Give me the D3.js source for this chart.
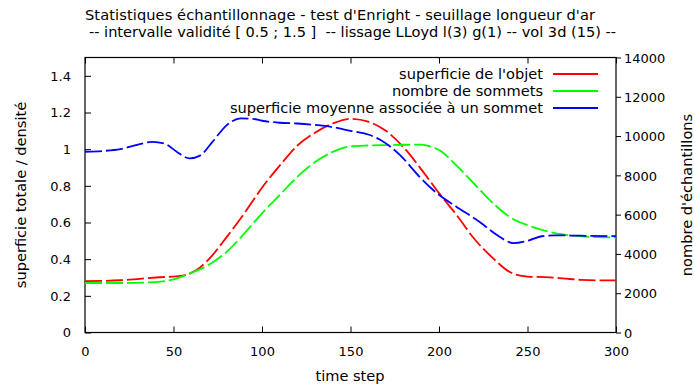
<!DOCTYPE html>
<html><head><meta charset="utf-8">
<script src="https://cdnjs.cloudflare.com/ajax/libs/d3/7.8.5/d3.min.js"></script>
<style>body{margin:0;background:#fff}svg{display:block}text{font-family:"DejaVu Sans",sans-serif;fill:#000}</style>
</head><body><svg id="c" width="694" height="384"></svg>
<script>
const titleLines = ["Statistiques échantillonnage - test d'Enright - seuillage longueur d'ar",
  "-- intervalle validité [ 0.5 ; 1.5 ]  -- lissage LLoyd l(3) g(1) -- vol 3d (15) --"];
const xTicks = [0,50,100,150,200,250,300];
const yTicks = [0,0.2,0.4,0.6,0.8,1,1.2,1.4];
const y2Ticks = [0,2000,4000,6000,8000,10000,12000,14000];
const seriesNames = ["superficie de l'objet","nombre de sommets","superficie moyenne associée à un sommet"];
const seriesColors = ["#ff0000","#00ff00","#0000ff"];
// superficie de l'objet (left axis)
const redT = [0,20,40,55,60,65,70,80,90,100,110,120,130,140,150,160,170,180,190,200,210,220,230,240,250,260,270,280,290,300];
const redV = [0.28,0.285,0.30,0.31,0.325,0.355,0.40,0.52,0.65,0.79,0.91,1.02,1.09,1.14,1.166,1.15,1.10,1.01,0.89,0.76,0.64,0.51,0.41,0.33,0.305,0.302,0.295,0.287,0.284,0.284];
// nombre de sommets (right axis)
const greenT = [0,20,40,50,60,70,80,90,100,110,120,130,140,150,160,170,180,190,195,200,210,220,230,240,250,260,270,280,290,300];
const greenV = [2520,2520,2567,2707,3033,3453,4107,5040,6067,7000,7933,8680,9193,9473,9520,9540,9557,9567,9473,9287,8493,7560,6627,5880,5460,5180,4993,4900,4853,4835];
// superficie moyenne associée à un sommet (left axis)
const blueT = [0,10,20,30,38,45,52,59,65,72,80,88,95,100,110,120,130,140,150,160,167,178,189,199,210,223,233,242,251,258,265,280,300];
const blueV = [0.986,0.99,1.0,1.025,1.04,1.03,0.985,0.95,0.965,1.04,1.13,1.168,1.165,1.155,1.144,1.14,1.132,1.12,1.10,1.08,1.05,0.968,0.849,0.758,0.685,0.603,0.53,0.488,0.503,0.525,0.53,0.528,0.525];

const svg = d3.select("#c");
const L=85, R=616, T=57.5, B=332.5;
const x = d3.scaleLinear().domain([0,300]).range([L,R]);
const y = d3.scaleLinear().domain([0,1.5]).range([B,T]);
const y2 = d3.scaleLinear().domain([0,14000]).range([B,T]);

const fs = "13px";
const gx = svg.append("g").attr("transform",`translate(0,${B})`).call(d3.axisBottom(x).tickValues(xTicks).tickSize(-6).tickPadding(14).tickFormat(d3.format("d")));
const gxt = svg.append("g").attr("transform",`translate(0,${T})`).call(d3.axisTop(x).tickValues(xTicks).tickSize(-6).tickFormat(""));
const gy = svg.append("g").attr("transform",`translate(${L},0)`).call(d3.axisLeft(y).tickValues(yTicks).tickSize(-6).tickPadding(14).tickFormat(d=>String(+d.toFixed(1))));
const gy2 = svg.append("g").attr("transform",`translate(${R},0)`).call(d3.axisRight(y2).tickValues(y2Ticks).tickSize(5).tickPadding(3).tickFormat(d3.format("d")));
[gx,gxt,gy,gy2].forEach(g=>{
  g.selectAll("text").style("font-size",fs).style("font-family","DejaVu Sans");
  g.selectAll("line").attr("stroke","#000").attr("stroke-width",1);
  g.select(".domain").remove();
});
gy2.selectAll("text").attr("dy","0.36em");
svg.append("rect").attr("x",L).attr("y",T).attr("width",R-L).attr("height",B-T).attr("fill","none").attr("stroke","#000").attr("stroke-width",1.2);

const dash="17,4";
const mk = (ts,vs,sc)=> ts.map((t,i)=>[x(t),sc(vs[i])]);
const line = d3.line().curve(d3.curveMonotoneX);
const data = [mk(redT,redV,y), mk(greenT,greenV,y2), mk(blueT,blueV,y)];
data.forEach((d,i)=>{
  svg.append("path").attr("d",line(d)).attr("fill","none").attr("stroke",seriesColors[i]).attr("stroke-width",1.8).attr("stroke-dasharray",dash);
});

seriesNames.forEach((n,i)=>{
  const yy = 74 + i*17;
  svg.append("text").attr("x",543).attr("y",yy).attr("dy","0.35em").attr("text-anchor","end").style("font-size","14.6px").text(n);
  svg.append("line").attr("x1",553).attr("x2",598).attr("y1",yy).attr("y2",yy).attr("stroke",seriesColors[i]).attr("stroke-width",1.8);
});

const titleX = [85, 89], titleW = [510, 527];
titleLines.forEach((t,i)=>{
  svg.append("text").attr("x",titleX[i]).attr("y",20+i*16.5).style("font-size","14.6px").style("white-space","pre")
    .attr("textLength",titleW[i]).attr("lengthAdjust","spacing").text(t);
});
svg.append("text").attr("x",350).attr("y",381).attr("text-anchor","middle").style("font-size","14.6px").text("time step");
svg.append("text").attr("transform","translate(26,195) rotate(-90)").attr("text-anchor","middle").style("font-size","14.6px").text("superficie totale / densité");
svg.append("text").attr("transform","translate(692,195) rotate(-90)").attr("text-anchor","middle").style("font-size","14.6px").text("nombre d'échantillons");
</script></body></html>
